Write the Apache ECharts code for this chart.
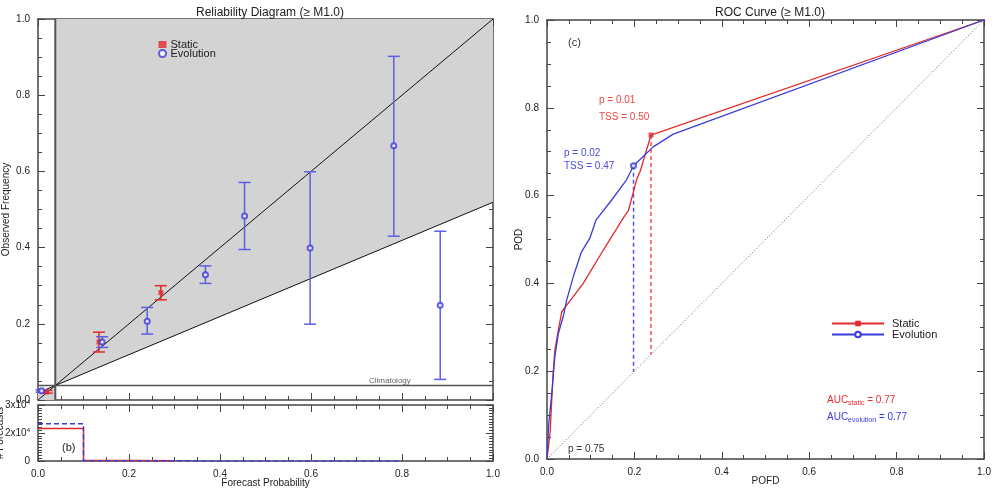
<!DOCTYPE html>
<html>
<head>
<meta charset="utf-8">
<script src="https://cdn.jsdelivr.net/npm/echarts@6/dist/echarts.min.js"></script>
<style>
  html, body { margin: 0; padding: 0; background: #fff; }
  #chart { width: 995px; height: 488px; }
</style>
</head>
<body>
<div id="chart"></div>
<script>
// reliability diagram (a)
const climatology = 0.038;
const staticProb = [0.019, 0.134, 0.270];
const staticObs  = [0.021, 0.152, 0.282];
const staticLo   = [0.018, 0.126, 0.263];
const staticHi   = [0.025, 0.178, 0.300];
const evoProb = [0.008, 0.141, 0.240, 0.368, 0.454, 0.598, 0.782, 0.884];
const evoObs  = [0.024, 0.152, 0.207, 0.329, 0.483, 0.399, 0.667, 0.249];
const evoLo   = [0.021, 0.138, 0.173, 0.306, 0.395, 0.199, 0.430, 0.054];
const evoHi   = [0.027, 0.166, 0.243, 0.352, 0.571, 0.599, 0.902, 0.443];

// histogram (b)
const staticEdges  = [0.0, 0.1, 0.2, 0.3];
const staticCounts = [23300, 350, 200];
const evoEdges  = [0.0, 0.1, 0.2, 0.3, 0.4, 0.5, 0.6, 0.7, 0.8];
const evoCounts = [26600, 250, 120, 60, 40, 20, 10, 5];
const histTicks  = [0, 20000, 40000];
const histLabels = ['0', '2x10{s|4}', '3x10{s|4}'];

// ROC curve (c)
const rocStaticPofd = [0, 0.007, 0.014, 0.018, 0.026, 0.034, 0.050, 0.083, 0.129, 0.175, 0.186, 0.196, 0.205, 0.213, 0.238, 1.0];
const rocStaticPod  = [0, 0.058, 0.195, 0.248, 0.294, 0.336, 0.357, 0.400, 0.476, 0.550, 0.565, 0.602, 0.636, 0.655, 0.738, 1.0];
const rocEvoPofd = [0, 0.004, 0.011, 0.018, 0.026, 0.037, 0.045, 0.060, 0.079, 0.098, 0.112, 0.148, 0.182, 0.198, 0.243, 0.289, 1.0];
const rocEvoPod  = [0, 0.080, 0.150, 0.233, 0.286, 0.324, 0.362, 0.415, 0.472, 0.503, 0.544, 0.590, 0.636, 0.668, 0.711, 0.740, 1.0];
const bestStatic = [0.238, 0.738];
const bestEvo    = [0.198, 0.668];

const red = '#e32a2a';
const blue = '#3b3bdc';
const errBlue = '#5e5ee4';
const axisCol = '#444';
const font = '"Liberation Sans", Arial, sans-serif';

const zip = (a, b) => a.map((v, i) => [v, b[i]]);
const stepPts = (edges, counts) => {
  const pts = [];
  counts.forEach((c, i) => { pts.push([edges[i], c]); pts.push([edges[i + 1], c]); });
  return pts;
};
const noSkill = x => climatology + 0.5 * (x - climatology);

const labelStyle = { show: true, color: '#222', fontSize: 10, fontFamily: font, formatter: v => v.toFixed(1) };
const tickAxis = (extra) => Object.assign({
  type: 'value', min: 0, max: 1, interval: 0.2,
  axisLine: { show: true, onZero: false, lineStyle: { color: axisCol, width: 1.5 } },
  axisTick: { show: true, inside: true, length: 7, lineStyle: { color: axisCol, width: 1 } },
  minorTick: { show: true, splitNumber: 4, length: 4, lineStyle: { color: axisCol } },
  axisLabel: { show: false },
  splitLine: { show: false },
  nameMoveOverlap: false,
  nameTextStyle: { color: '#222', fontSize: 10, fontFamily: font }
}, extra);

const errBar = (color) => function (params, api) {
  const x = api.value(0);
  const lo = api.coord([x, api.value(2)]);
  const hi = api.coord([x, api.value(3)]);
  const w = 6;
  const st = { stroke: color, lineWidth: 1.5 };
  return {
    type: 'group', children: [
      { type: 'line', shape: { x1: lo[0], y1: lo[1], x2: hi[0], y2: hi[1] }, style: st },
      { type: 'line', shape: { x1: lo[0] - w, y1: lo[1], x2: lo[0] + w, y2: lo[1] }, style: st },
      { type: 'line', shape: { x1: hi[0] - w, y1: hi[1], x2: hi[0] + w, y2: hi[1] }, style: st }
    ]
  };
};

const histMinor = { show: true, splitNumber: 10, length: 4, lineStyle: { color: axisCol } };

const chart = echarts.init(document.getElementById('chart'));
const option = {
  animation: false,
  backgroundColor: '#fff',
  textStyle: { fontFamily: font },
  title: [
    { text: 'Reliability Diagram (≥ M1.0)', left: 265, top: 2, textAlign: 'center',
      textStyle: { fontSize: 12, fontWeight: 'normal', color: '#222', fontFamily: font } },
    { text: 'ROC Curve (≥ M1.0)', left: 765, top: 2, textAlign: 'center',
      textStyle: { fontSize: 12, fontWeight: 'normal', color: '#222', fontFamily: font } }
  ],
  grid: [
    { left: 38, top: 19, width: 455, height: 381, outerBoundsMode: 'none' },
    { left: 38, top: 405, width: 455, height: 56, outerBoundsMode: 'none' },
    { left: 547, top: 20, width: 437, height: 439, outerBoundsMode: 'none' }
  ],
  xAxis: [
    tickAxis({ gridIndex: 0, position: 'bottom' }),
    tickAxis({ gridIndex: 0, position: 'top' }),
    tickAxis({ gridIndex: 1, position: 'bottom', axisLabel: labelStyle,
      name: 'Forecast Probability', nameLocation: 'middle', nameGap: 17 }),
    tickAxis({ gridIndex: 1, position: 'top' }),
    tickAxis({ gridIndex: 2, position: 'bottom', axisLabel: labelStyle,
      name: 'POFD', nameLocation: 'middle', nameGap: 17 }),
    tickAxis({ gridIndex: 2, position: 'top' })
  ],
  yAxis: [
    tickAxis({ gridIndex: 0, position: 'left', axisLabel: labelStyle,
      name: 'Observed Frequency', nameLocation: 'middle', nameGap: 27 }),
    tickAxis({ gridIndex: 0, position: 'right' }),
    tickAxis({ gridIndex: 1, position: 'left', min: 0, max: 40000, interval: 20000, minorTick: histMinor,
      axisLabel: { show: true, color: '#222', fontSize: 10, fontFamily: font,
        formatter: v => histLabels[histTicks.indexOf(v)],
        rich: { s: { fontSize: 6, color: '#222', fontFamily: font, padding: [0, 0, 6, 0] } } },
      name: '# Forecasts', nameLocation: 'middle', nameGap: 33 }),
    tickAxis({ gridIndex: 1, position: 'right', min: 0, max: 40000, interval: 20000, minorTick: histMinor }),
    tickAxis({ gridIndex: 2, position: 'left', axisLabel: labelStyle,
      name: 'POD', nameLocation: 'middle', nameGap: 23 }),
    tickAxis({ gridIndex: 2, position: 'right' })
  ],
  legend: [
    { data: ['Static', 'Evolution'], left: 153, top: 34, orient: 'vertical', itemGap: -2,
      itemWidth: 8, itemHeight: 7, textStyle: { fontSize: 11, color: '#222', fontFamily: font, padding: [0, 0, 0, -1] } },
    { data: ['Static ', 'Evolution '], left: 826, top: 313, orient: 'vertical', itemGap: 0,
      itemWidth: 52, itemHeight: 7, formatter: n => n.trim(),
      textStyle: { fontSize: 11, color: '#222', fontFamily: font, padding: [0, 0, 0, 3] } }
  ],
  series: [
    // skill shading
    {
      type: 'custom', xAxisIndex: 0, yAxisIndex: 0, silent: true, z: 1,
      data: [[climatology, climatology]],
      renderItem: function (params, api) {
        const c = api.value(0);
        const upper = [[c, c], [1, noSkill(1)], [1, 1], [c, 1]].map(p => api.coord(p));
        const lower = [[0, 0], [0, noSkill(0)], [c, c], [c, 0]].map(p => api.coord(p));
        return { type: 'group', children: [
          { type: 'polygon', shape: { points: upper }, style: { fill: '#d3d3d3' } },
          { type: 'polygon', shape: { points: lower }, style: { fill: '#d3d3d3' } }
        ] };
      }
    },
    { type: 'line', xAxisIndex: 0, yAxisIndex: 0, z: 2, symbol: 'none', silent: true,
      data: [[0, 0], [1, 1]], lineStyle: { color: '#111', width: 1 } },
    { type: 'line', xAxisIndex: 0, yAxisIndex: 0, z: 2, symbol: 'none', silent: true,
      data: [[0, noSkill(0)], [1, noSkill(1)]], lineStyle: { color: '#111', width: 1 } },
    { type: 'line', xAxisIndex: 0, yAxisIndex: 0, z: 2, symbol: 'none', silent: true,
      data: [[0, climatology], [1, climatology]], lineStyle: { color: '#555', width: 1.5 } },
    { type: 'line', xAxisIndex: 0, yAxisIndex: 0, z: 2, symbol: 'none', silent: true,
      data: [[climatology, 0], [climatology, 1]], lineStyle: { color: '#555', width: 2 } },
    // error bars
    { type: 'custom', xAxisIndex: 0, yAxisIndex: 0, z: 3, renderItem: errBar(red),
      encode: { x: 0, y: [2, 3] },
      data: staticProb.map((x, i) => [x, staticObs[i], staticLo[i], staticHi[i]]) },
    { type: 'custom', xAxisIndex: 0, yAxisIndex: 0, z: 3, renderItem: errBar(errBlue),
      encode: { x: 0, y: [2, 3] },
      data: evoProb.map((x, i) => [x, evoObs[i], evoLo[i], evoHi[i]]) },
    { name: 'Static', type: 'scatter', xAxisIndex: 0, yAxisIndex: 0, z: 4,
      symbol: 'rect', symbolSize: 5, itemStyle: { color: red },
      data: zip(staticProb, staticObs) },
    { name: 'Evolution', type: 'scatter', xAxisIndex: 0, yAxisIndex: 0, z: 4,
      symbol: 'emptyCircle', symbolSize: 5, itemStyle: { color: blue, borderWidth: 1.2 },
      data: zip(evoProb, evoObs) },

    // histogram
    { type: 'line', xAxisIndex: 2, yAxisIndex: 2, symbol: 'none', z: 3,
      data: stepPts(staticEdges, staticCounts), lineStyle: { color: red, width: 1.5 } },
    { type: 'line', xAxisIndex: 2, yAxisIndex: 2, symbol: 'none', z: 4,
      data: stepPts(evoEdges, evoCounts), lineStyle: { color: blue, width: 1.5, type: [5, 3] } },

    // ROC
    { type: 'line', xAxisIndex: 4, yAxisIndex: 4, symbol: 'none', silent: true,
      data: [[0, 0], [1, 1]], lineStyle: { color: '#666', width: 1, type: [1, 2] } },
    { type: 'line', xAxisIndex: 4, yAxisIndex: 4, symbol: 'none', silent: true,
      data: [bestStatic, [bestStatic[0], bestStatic[0]]], lineStyle: { color: '#f05050', width: 1.5, type: [4, 3] } },
    { type: 'line', xAxisIndex: 4, yAxisIndex: 4, symbol: 'none', silent: true,
      data: [bestEvo, [bestEvo[0], bestEvo[0]]], lineStyle: { color: '#5555e6', width: 1.5, type: [4, 3] } },
    { name: 'Static ', type: 'line', xAxisIndex: 4, yAxisIndex: 4, symbol: 'rect', symbolSize: 6, showSymbol: false,
      data: zip(rocStaticPofd, rocStaticPod), itemStyle: { color: red }, lineStyle: { color: red, width: 1.3 } },
    { name: 'Evolution ', type: 'line', xAxisIndex: 4, yAxisIndex: 4, symbol: 'emptyCircle', symbolSize: 6, showSymbol: false,
      data: zip(rocEvoPofd, rocEvoPod), itemStyle: { color: blue }, lineStyle: { color: blue, width: 1.3 } },
    { type: 'scatter', xAxisIndex: 4, yAxisIndex: 4, symbol: 'rect', symbolSize: 5, z: 5,
      data: [bestStatic], itemStyle: { color: red } },
    { type: 'scatter', xAxisIndex: 4, yAxisIndex: 4, symbol: 'emptyCircle', symbolSize: 5, z: 5,
      data: [bestEvo], itemStyle: { color: blue, borderWidth: 1.2 } }
  ],
  graphic: [
    { type: 'text', left: 61, top: 33, style: { text: '(a)', fontSize: 11, fill: '#222', fontFamily: font } },
    { type: 'text', left: 62, top: 442, style: { text: '(b)', fontSize: 11, fill: '#222', fontFamily: font } },
    { type: 'text', left: 568, top: 37, style: { text: '(c)', fontSize: 11, fill: '#333', fontFamily: font } },
    { type: 'text', left: 369, top: 377, style: { text: 'Climatology', fontSize: 8, fill: '#666', fontFamily: font } },
    { type: 'text', left: 599, top: 95, style: { text: 'p = 0.01', fontSize: 10, fill: '#ee4444', fontFamily: font } },
    { type: 'text', left: 599, top: 112, style: { text: 'TSS = 0.50', fontSize: 10, fill: '#ee4444', fontFamily: font } },
    { type: 'text', left: 564, top: 148, style: { text: 'p = 0.02', fontSize: 10, fill: '#4a4ae0', fontFamily: font } },
    { type: 'text', left: 564, top: 161, style: { text: 'TSS = 0.47', fontSize: 10, fill: '#4a4ae0', fontFamily: font } },
    { type: 'text', left: 568, top: 444, style: { text: 'p = 0.75', fontSize: 10, fill: '#333', fontFamily: font } },
    { type: 'text', left: 827, top: 395, style: { text: 'AUC{s|static} = 0.77', fontSize: 10, fill: '#e83030', fontFamily: font,
      rich: { s: { fontSize: 7, fill: '#e83030', padding: [6, 0, 0, 0], fontFamily: font } } } },
    { type: 'text', left: 827, top: 412, style: { text: 'AUC{s|evolution} = 0.77', fontSize: 10, fill: '#3a3ae0', fontFamily: font,
      rich: { s: { fontSize: 7, fill: '#3a3ae0', padding: [6, 0, 0, 0], fontFamily: font } } } }
  ]
};
chart.setOption(option);
</script>
</body>
</html>
